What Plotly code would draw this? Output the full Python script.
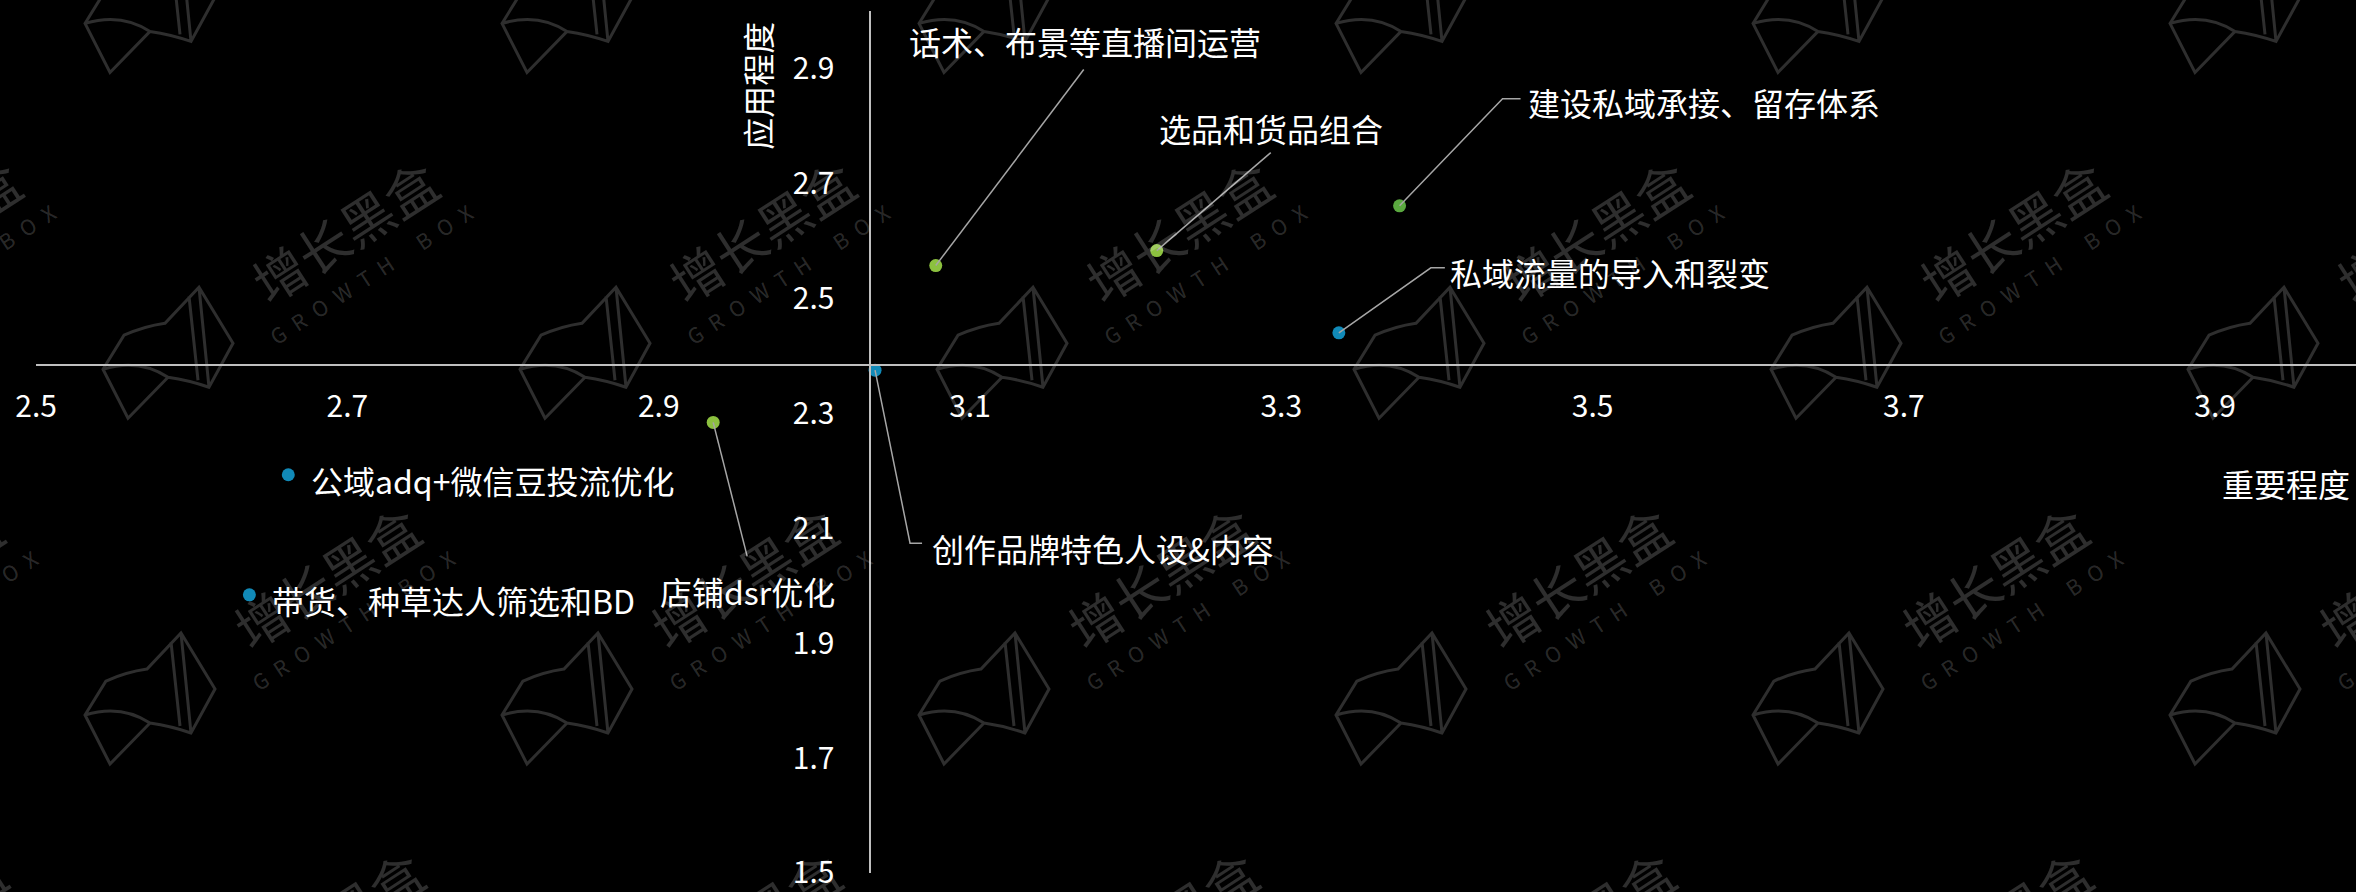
import plotly.graph_objects as go

# ---------------- data ----------------
items = ["话术、布景等直播间运营", "选品和货品组合", "建设私域承接、留存体系", "私域流量的导入和裂变",
         "创作品牌特色人设&内容", "店铺dsr优化", "公域adq+微信豆投流优化", "带货、种草达人筛选和BD"]
importance = [3.078, 3.220, 3.376, 3.337, 3.039, 2.935, 2.662, 2.637]
application = [2.557, 2.583, 2.661, 2.440, 2.375, 2.284, 2.193, 1.984]
group = ["A", "A", "B", "C", "C", "A", "C", "C"]
x_ticks = [2.5, 2.7, 2.9, 3.1, 3.3, 3.5, 3.7, 3.9]
y_ticks = [1.5, 1.7, 1.9, 2.1, 2.3, 2.5, 2.7, 2.9]
x_title = "重要程度"
y_title = "应用程度"
watermark_cn = "增长黑盒"
watermark_en = "GROWTH BOX"

# ---------------- styling ----------------
W, H = 2356, 892
L, R, T, B = 36, 0, 11, 16
PW, PH = W - L - R, H - T - B
X0, X_PX_PER_UNIT = 2.5, 1556.5
X1 = X0 + PW / X_PX_PER_UNIT
Y0, Y1 = 1.5, 3.0
FONT = "Noto Sans CJK SC, Microsoft YaHei, sans-serif"
group_colors = {"A": "#8CC13F", "B": "#5AA83F", "C": "#118AB8"}
line_color = "#A6A6A6"
axis_color = "#BFBFBF"
wm_color = "rgba(255,255,255,0.18)"

# label placement (pixel offsets relative to the point; y up) and leader lines
label_style = [
    dict(xanchor="left", dx=-29, dy=225, line=[(0, 0), (148, 196)]),
    dict(xanchor="left", dx=0, dy=123, line=[(0, 0), (114, 98)]),
    dict(xanchor="left", dx=126, dy=104, line=[(0, 0), (103, 107), (121, 107)]),
    dict(xanchor="left", dx=109, dy=61, line=[(0, 0), (92, 65), (106, 65)]),
    dict(xanchor="left", dx=55, dy=-178, line=[(0, 0), (35, -173), (47, -173)]),
    dict(xanchor="center", dx=34, dy=-169, line=[(0, 0), (34, -134)]),
    dict(xanchor="left", dx=21, dy=-5, line=None),
    dict(xanchor="left", dx=21, dy=-5, line=None),
]

x_mean = sum(importance) / len(importance)
y_mean = sum(application) / len(application)

fig = go.Figure()
fig.add_trace(go.Scatter(
    x=importance, y=application, mode="markers",
    marker=dict(size=13, color=[group_colors[g] for g in group], line=dict(width=0)),
    hoverinfo="text", text=items, cliponaxis=False,
))

annotations = []
shapes = []


def px_to_paper(px, py):
    return (px - L) / PW, 1 - (py - T) / PH


# ---- watermark tiles ----
rows = [(-116, 326, False), (231, 344, True), (578, 326, True), (925, 330, True)]
logo_path = ("M-241,-139 L-220,-105 Q-200,-96 -179,-93 L-145,-57 L-111,-113 L-135,-157 "
             "Q-155,-150 -176,-147 L-216,-188 Z M-145,-57 L-135,-157 "
             "M-241,-139 Q-205,-128 -176,-147 M-155,-66 L-146,-150")
en_text = "\u2002".join(list(watermark_en)).replace("\u2002 \u2002", "\u2002\u2002\u2002")
for ry, bx, with_text in rows:
    for k in range(-1, 6):
        cx = bx + 417 * k
        px, py = px_to_paper(cx, ry)
        if with_text:
            annotations.append(dict(x=px, y=py, xref="paper", yref="paper", text=watermark_cn,
                                    showarrow=False, textangle=-33, xanchor="center", yanchor="middle",
                                    font=dict(family=FONT, size=52, color=wm_color)))
            annotations.append(dict(x=px, y=py, xref="paper", yref="paper", text=en_text,
                                    showarrow=False, textangle=-33, xanchor="center", yanchor="middle",
                                    xshift=27, yshift=-44,
                                    font=dict(family=FONT, size=21, color=wm_color)))
        shapes.append(dict(type="path", xref="paper", yref="paper", xsizemode="pixel", ysizemode="pixel",
                           xanchor=px, yanchor=py, path=logo_path, layer="below",
                           line=dict(color=wm_color, width=3)))

# ---- data labels and leader lines ----
for name, xv, yv, st in zip(items, importance, application, label_style):
    annotations.append(dict(x=xv, y=yv, xref="x", yref="y", text=name, showarrow=False,
                            xanchor=st["xanchor"], yanchor="middle", xshift=st["dx"], yshift=st["dy"],
                            font=dict(family=FONT, size=32, color="white")))
    if st["line"]:
        path = "M" + " L".join(f"{a},{b}" for a, b in st["line"])
        shapes.append(dict(type="path", xref="x", yref="y", xsizemode="pixel", ysizemode="pixel",
                           xanchor=xv, yanchor=yv, path=path, layer="above",
                           line=dict(color=line_color, width=1.5)))

# ---- axis titles ----
tx, ty = px_to_paper(2352, 485)
annotations.append(dict(x=tx, y=ty, xref="paper", yref="paper", text=x_title, showarrow=False,
                        xanchor="right", yanchor="middle", font=dict(family=FONT, size=32, color="white")))
tx, ty = px_to_paper(757, 86)
annotations.append(dict(x=tx, y=ty, xref="paper", yref="paper", text=y_title, showarrow=False,
                        textangle=-90, xanchor="center", yanchor="middle",
                        font=dict(family=FONT, size=32, color="white")))

fig.update_layout(
    width=W, height=H,
    margin=dict(l=L, r=R, t=T, b=B, pad=0),
    paper_bgcolor="black", plot_bgcolor="black",
    showlegend=False,
    annotations=annotations, shapes=shapes,
    xaxis=dict(range=[X0 - 0.0001, X1], tickvals=x_ticks, ticktext=[f"{v:.1f}" for v in x_ticks],
               showgrid=False, zeroline=False, showline=True, linecolor=axis_color, linewidth=2,
               anchor="free", position=(y_mean - Y0) / (Y1 - Y0), ticks="",
               ticklabeloverflow="allow",
               ticklabelstandoff=15, tickfont=dict(family=FONT, size=30, color="white")),
    yaxis=dict(range=[Y0 - 0.0001, Y1], tickvals=y_ticks, ticktext=[f"{v:.1f}" for v in y_ticks],
               showgrid=False, zeroline=False, showline=True, linecolor=axis_color, linewidth=2,
               anchor="free", position=(x_mean - X0) / (X1 - X0), ticks="",
               ticklabeloverflow="allow",
               ticklabelstandoff=28, tickfont=dict(family=FONT, size=30, color="white")),
)

fig.write_html(
    "out.html",
    config={"displayModeBar": False},
    post_script="document.documentElement.style.background='black';"
                "document.body.style.margin='0';document.body.style.background='black';"
                "document.body.style.overflow='hidden';",
)
